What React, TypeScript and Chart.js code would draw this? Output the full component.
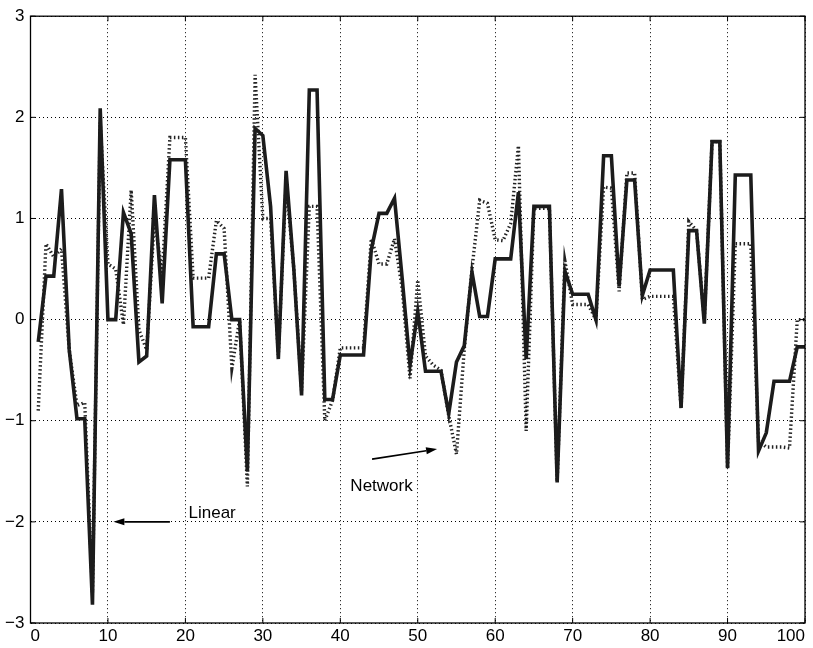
import React, { useEffect, useRef } from "react";
import { Chart, registerables } from "chart.js";

Chart.register(...registerables);

// sample index (x axis), 1..100
const sampleIndex: number[] = Array.from({ length: 100 }, (_, i) => i + 1);

// solid thick line ("Linear")
const linearValues: number[] = [
  -0.22, 0.43, 0.43, 1.29, -0.3, -0.98, -0.98, -2.82, 2.09, 0.0,
  0.0, 1.06, 0.85, -0.42, -0.36, 1.23, 0.16, 1.58, 1.58, 1.58,
  -0.07, -0.07, -0.07, 0.65, 0.65, 0.0, 0.0, -1.5, 1.89, 1.82,
  1.12, -0.39, 1.47, 0.5, -0.75, 2.27, 2.27, -0.79, -0.79, -0.35,
  -0.35, -0.35, -0.35, 0.69, 1.05, 1.05, 1.2, 0.4, -0.45, 0.08,
  -0.51, -0.51, -0.51, -0.93, -0.42, -0.26, 0.47, 0.03, 0.03, 0.6,
  0.6, 0.6, 1.26, -0.39, 1.12, 1.12, 1.12, -1.61, 0.48, 0.25,
  0.25, 0.25, 0.0, 1.62, 1.62, 0.33, 1.38, 1.38, 0.24, 0.49,
  0.49, 0.49, 0.49, -0.87, 0.88, 0.88, -0.04, 1.76, 1.76, -1.47,
  1.43, 1.43, 1.43, -1.3, -1.12, -0.61, -0.61, -0.61, -0.27, -0.27,
];

// dotted line ("Network")
const networkValues: number[] = [
  -0.9, 0.75, 0.62, 0.7, -0.3, -0.85, -0.82, -2.7, 1.95, 0.55,
  0.5, -0.05, 1.28, -0.1, -0.3, 1.0, 0.45, 1.8, 1.8, 1.8,
  0.41, 0.41, 0.41, 0.98, 0.9, -0.48, 0.0, -1.65, 2.42, 1.0,
  1.0, -0.35, 1.35, 0.5, -0.7, 1.12, 1.12, -1.0, -0.8, -0.28,
  -0.28, -0.28, -0.28, 0.8, 0.55, 0.55, 0.8, 0.3, -0.58, 0.39,
  -0.36, -0.45, -0.5, -0.95, -1.33, -0.3, 0.5, 1.18, 1.15, 0.79,
  0.78, 0.95, 1.72, -1.1, 1.1, 1.1, 1.1, -1.6, 0.58, 0.15,
  0.15, 0.15, 0.0, 1.31, 1.3, 0.28, 1.45, 1.45, 0.2, 0.23,
  0.23, 0.23, 0.23, -0.88, 0.97, 0.88, 0.0, 1.76, 1.76, -1.47,
  0.75, 0.75, 0.75, -1.2, -1.26, -1.26, -1.26, -1.27, 0.0, 0.0,
];

// axis ticks
const xTickValues: number[] = [0, 10, 20, 30, 40, 50, 60, 70, 80, 90, 100];
const yTickValues: number[] = [-3, -2, -1, 0, 1, 2, 3];

// annotations (data coordinates)
const annotationLabels: string[] = ["Linear", "Network"];
const annotationTextX: number[] = [20.4, 41.3];
const annotationTextY: number[] = [-1.92, -1.65];
const arrowFromX: number[] = [18.0, 44.1];
const arrowFromY: number[] = [-2.0, -1.38];
const arrowToX: number[] = [10.7, 52.5];
const arrowToY: number[] = [-2.0, -1.28];

const FONT = "'Liberation Sans', Arial, Helvetica, sans-serif";

const fmt = (v: number) => (v < 0 ? "\u2212" + Math.abs(v) : String(v));

const framePlugin = {
  id: "matlabFrame",
  afterDatasetsDraw(chart: any) {
    const { ctx, chartArea: a, scales } = chart;
    const xs = scales.x;
    const ys = scales.y;
    ctx.save();
    ctx.strokeStyle = "#000";
    ctx.lineWidth = 1.3;
    ctx.strokeRect(a.left, a.top, a.right - a.left, a.bottom - a.top);
    const L = 5;
    ctx.lineWidth = 1;
    ctx.beginPath();
    xTickValues.forEach((v) => {
      const p = xs.getPixelForValue(v);
      ctx.moveTo(p, a.bottom);
      ctx.lineTo(p, a.bottom - L);
      ctx.moveTo(p, a.top);
      ctx.lineTo(p, a.top + L);
    });
    yTickValues.forEach((v) => {
      const p = ys.getPixelForValue(v);
      ctx.moveTo(a.left, p);
      ctx.lineTo(a.left + L, p);
      ctx.moveTo(a.right, p);
      ctx.lineTo(a.right - L, p);
    });
    ctx.stroke();

    // annotations
    ctx.fillStyle = "#000";
    ctx.font = `17px ${FONT}`;
    ctx.textAlign = "left";
    ctx.textBaseline = "middle";
    annotationLabels.forEach((label, i) => {
      ctx.fillText(
        label,
        xs.getPixelForValue(annotationTextX[i]),
        ys.getPixelForValue(annotationTextY[i])
      );
      const x0 = xs.getPixelForValue(arrowFromX[i]);
      const y0 = ys.getPixelForValue(arrowFromY[i]);
      const x1 = xs.getPixelForValue(arrowToX[i]);
      const y1 = ys.getPixelForValue(arrowToY[i]);
      const ang = Math.atan2(y1 - y0, x1 - x0);
      const hl = 11;
      const hw = 3.5;
      ctx.lineWidth = 1.6;
      ctx.beginPath();
      ctx.moveTo(x0, y0);
      ctx.lineTo(x1 - hl * Math.cos(ang), y1 - hl * Math.sin(ang));
      ctx.stroke();
      ctx.beginPath();
      ctx.moveTo(x1, y1);
      ctx.lineTo(
        x1 - hl * Math.cos(ang) + hw * Math.sin(ang),
        y1 - hl * Math.sin(ang) - hw * Math.cos(ang)
      );
      ctx.lineTo(
        x1 - hl * Math.cos(ang) - hw * Math.sin(ang),
        y1 - hl * Math.sin(ang) + hw * Math.cos(ang)
      );
      ctx.closePath();
      ctx.fill();
    });
    ctx.restore();
  },
};

export default function App() {
  const canvasRef = useRef<HTMLCanvasElement | null>(null);

  useEffect(() => {
    document.body.style.margin = "0";
    const canvas = canvasRef.current;
    if (!canvas) return;
    const chart = new Chart(canvas, {
      type: "line",
      data: {
        datasets: [
          {
            label: "Linear",
            data: sampleIndex.map((x, i) => ({ x, y: linearValues[i] })),
            borderColor: "#1c1c1c",
            borderWidth: 3.6,
            borderJoinStyle: "miter",
            pointRadius: 0,
            tension: 0,
            fill: false,
          },
          {
            label: "Network",
            data: sampleIndex.map((x, i) => ({ x, y: networkValues[i] })),
            borderColor: "#222",
            borderWidth: 3.4,
            borderDash: [1.5, 2.5],
            borderJoinStyle: "miter",
            pointRadius: 0,
            tension: 0,
            fill: false,
          },
        ],
      },
      options: {
        animation: false,
        responsive: false,
        maintainAspectRatio: false,
        layout: { padding: { left: 0, right: 8, top: 11.6, bottom: 0 } },
        plugins: {
          legend: { display: false },
          tooltip: { enabled: false },
        },
        scales: {
          x: {
            type: "linear",
            min: 0,
            max: 100,
            afterFit: (s: any) => {
              s.height = 25;
            },
            afterBuildTicks: (s: any) => {
              s.ticks = xTickValues.map((v) => ({ value: v }));
            },
            ticks: {
              color: "#000",
              font: { family: FONT, size: 17 },
              padding: 3,
              maxRotation: 0,
              autoSkip: false,
              align: "inner",
              callback: (v: any) => fmt(Number(v)),
            },
            grid: { color: "#000", lineWidth: 1, drawTicks: false },
            border: { display: false, dash: [1, 3] },
          },
          y: {
            type: "linear",
            min: -3,
            max: 3,
            afterFit: (s: any) => {
              s.width = 30.5;
            },
            afterBuildTicks: (s: any) => {
              s.ticks = yTickValues.map((v) => ({ value: v }));
            },
            ticks: {
              color: "#000",
              font: { family: FONT, size: 17 },
              padding: 6,
              autoSkip: false,
              callback: (v: any) => fmt(Number(v)),
            },
            grid: { color: "#000", lineWidth: 1, drawTicks: false },
            border: { display: false, dash: [1, 3] },
          },
        },
      },
      plugins: [framePlugin],
    } as any);
    return () => chart.destroy();
  }, []);

  return (
    <div style={{ width: 813, height: 648, background: "#fff" }}>
      <canvas ref={canvasRef} width={813} height={648} />
    </div>
  );
}
